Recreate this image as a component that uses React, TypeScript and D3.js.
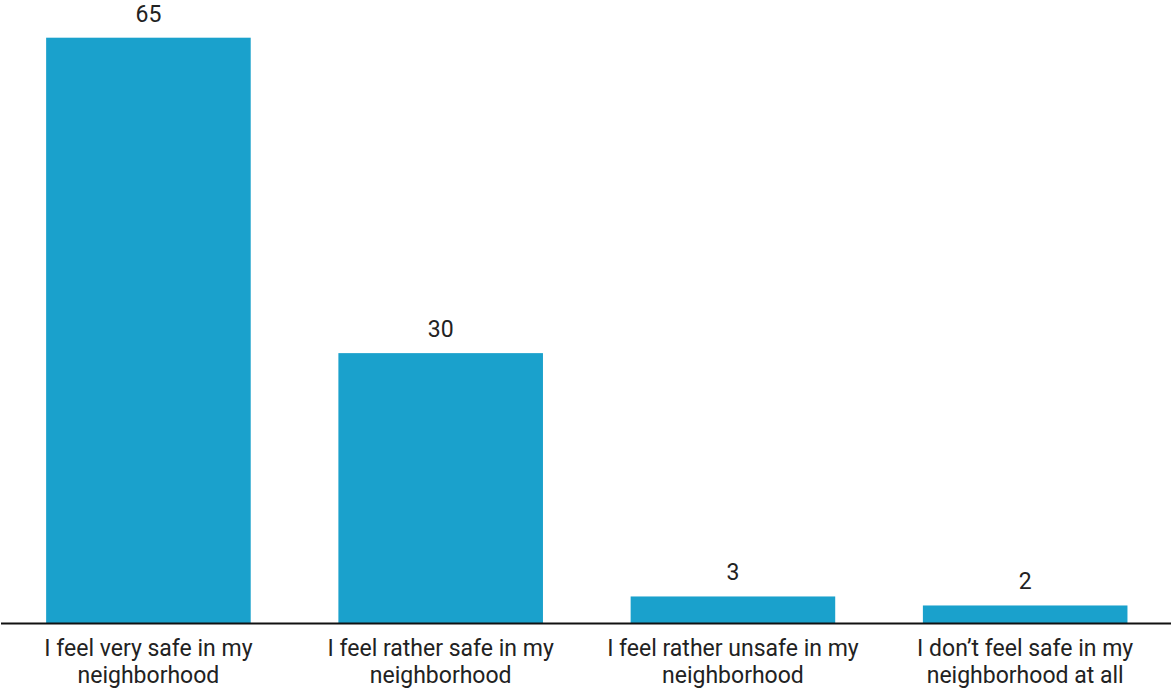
import React from "react";
import * as d3 from "d3";

const categories: string[] = [
  "I feel very safe in my\nneighborhood",
  "I feel rather safe in my\nneighborhood",
  "I feel rather unsafe in my\nneighborhood",
  "I don’t feel safe in my\nneighborhood at all",
];
const values: number[] = [65, 30, 3, 2];

const W = 1172;
const H = 688;

export default function App() {
  const x = d3
    .scaleBand<string>()
    .domain(categories)
    .range([2.3, 1171.3])
    .paddingInner(0.3)
    .paddingOuter(0.15);
  const y = d3.scaleLinear().domain([0, 65]).range([623.5, 37.7]);
  const font = "Roboto, 'Noto Sans', sans-serif";
  return (
    <svg
      width={W}
      height={H}
      style={{ position: "absolute", left: 0, top: 0, background: "#fff" }}
    >
      {categories.map((c, i) => {
        const x0 = x(c)!;
        const bw = x.bandwidth();
        const v = values[i];
        return (
          <g key={c}>
            <rect
              x={x0}
              y={y(v)}
              width={bw}
              height={y(0) - y(v)}
              fill="#1aa1cc"
            />
            <text
              x={x0 + bw / 2}
              y={y(v) - 16}
              textAnchor="middle"
              fontFamily={font}
              fontSize={23}
              fill="#222"
            >
              {d3.format("d")(v)}
            </text>
            {c.split("\n").map((line, j) => (
              <text
                key={j}
                x={x0 + bw / 2}
                y={655.5 + j * 27}
                textAnchor="middle"
                fontFamily={font}
                fontSize={23}
                fill="#222"
              >
                {line}
              </text>
            ))}
          </g>
        );
      })}
      <line x1={1} x2={1171} y1={y(0)} y2={y(0)} stroke="#111" strokeWidth={2} />
    </svg>
  );
}
